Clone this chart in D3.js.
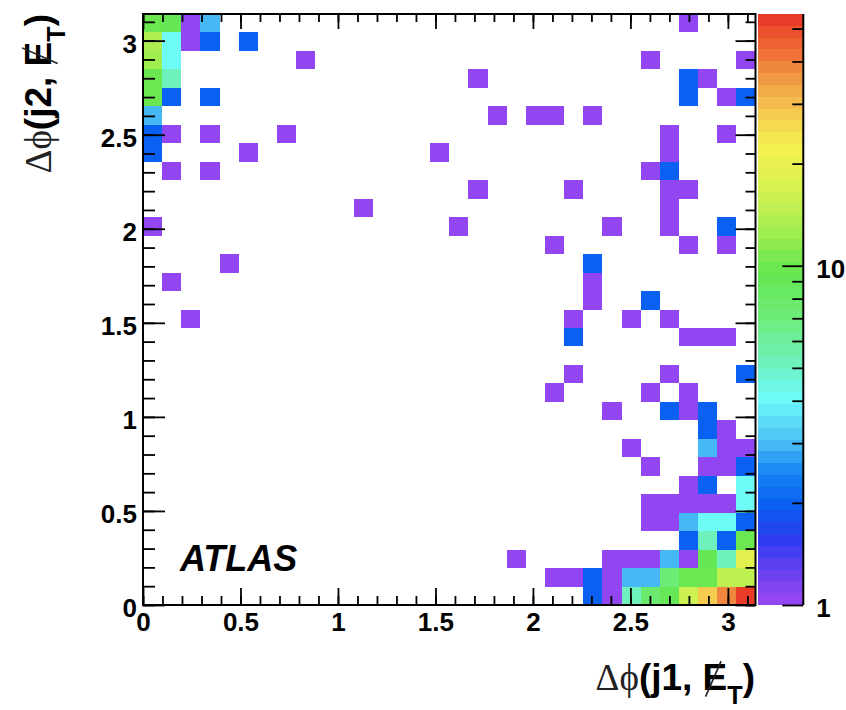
<!DOCTYPE html>
<html>
<head>
<meta charset="utf-8">
<script src="https://cdn.jsdelivr.net/npm/d3@7"></script>
<style>
  body { margin: 0; background: #fff; }
  svg { display: block; font-family: "Liberation Sans", Arial, Helvetica, sans-serif; }
</style>
</head>
<body>
<div id="chart"></div>
<script>
// 32 x 32 bins over [0, pi] on both axes
const nBins = 32;
const phiMax = Math.PI;

// filled bins: y bin index, x bin index, entries (read row by row, top row first)
const binRow = [
  31, 31, 31, 31, 31,
  30, 30, 30, 30, 30,
  29, 29, 29, 29, 29,
  28, 28, 28, 28, 28,
  27, 27, 27, 27, 27, 27,
  26, 26, 26, 26, 26,
  25, 25, 25, 25, 25, 25,
  24, 24, 24, 24,
  23, 23, 23, 23,
  22, 22, 22, 22,
  21, 21,
  20, 20, 20, 20, 20,
  19, 19, 19,
  18, 18,
  17, 17,
  16, 16,
  15, 15, 15, 15,
  14, 14, 14, 14,
  12, 12, 12,
  11, 11, 11,
  10, 10, 10, 10,
  9, 9,
  8, 8, 8, 8,
  7, 7, 7, 7,
  6, 6, 6,
  5, 5, 5, 5, 5, 5,
  4, 4, 4, 4, 4, 4,
  3, 3, 3, 3,
  2, 2, 2, 2, 2, 2, 2, 2, 2,
  1, 1, 1, 1, 1, 1, 1, 1, 1, 1, 1,
  0, 0, 0, 0, 0, 0, 0, 0, 0
];
const binCol = [
  0, 1, 2, 3, 28,
  0, 1, 2, 3, 5,
  0, 1, 8, 26, 31,
  0, 1, 17, 28, 29,
  0, 1, 3, 28, 30, 31,
  0, 18, 20, 21, 23,
  0, 1, 3, 7, 27, 30,
  0, 5, 15, 27,
  1, 3, 26, 27,
  17, 22, 27, 28,
  11, 27,
  0, 16, 24, 27, 30,
  21, 28, 30,
  4, 23,
  1, 23,
  23, 26,
  2, 22, 25, 27,
  22, 28, 29, 30,
  22, 27, 31,
  21, 26, 28,
  24, 27, 28, 29,
  29, 30,
  25, 29, 30, 31,
  26, 29, 30, 31,
  28, 29, 31,
  26, 27, 28, 29, 30, 31,
  26, 27, 28, 29, 30, 31,
  28, 29, 30, 31,
  19, 24, 25, 26, 27, 28, 29, 30, 31,
  21, 22, 23, 24, 25, 26, 27, 28, 29, 30, 31,
  23, 24, 25, 26, 27, 28, 29, 30, 31
];
const binEntries = [
  10, 9, 1, 3, 1,
  14, 4, 1, 2, 2,
  13, 4, 1, 1, 1,
  10, 5, 1, 2, 1,
  10, 2, 2, 2, 1, 2,
  3, 1, 1, 1, 1,
  2, 1, 1, 1, 1, 1,
  2, 1, 1, 1,
  1, 1, 1, 2,
  1, 1, 1, 1,
  1, 1,
  1, 1, 1, 1, 2,
  1, 1, 1,
  1, 2,
  1, 1,
  1, 2,
  1, 1, 1, 1,
  2, 1, 1, 1,
  1, 1, 2,
  1, 1, 1,
  1, 2, 1, 2,
  2, 1,
  1, 3, 1, 1,
  1, 1, 1, 2,
  1, 2, 4,
  1, 1, 1, 1, 1, 4,
  1, 1, 3, 4, 4, 2,
  2, 5, 2, 10,
  1, 1, 1, 1, 3, 1, 9, 5, 18,
  1, 1, 2, 1, 3, 3, 7, 10, 10, 15, 15,
  2, 1, 5, 8, 9, 16, 28, 38, 55
];

const axisTicks = [0, 0.5, 1, 1.5, 2, 2.5, 3];
const zMin = 1, zMax = 55.2;
const zLabelTicks = [1, 10];
const zMinorTicks = [2, 3, 4, 5, 6, 7, 8, 9, 20, 30, 40, 50];

// ROOT "pretty" palette: 50 hues from violet down to red, tinted like the print
const nColors = 50;
const hueAnchors = [
  [280, [150, 70, 242]], [274, [145, 70, 242]], [260, [100, 65, 240]],
  [245, [40, 60, 240]], [230, [10, 95, 240]], [215, [20, 130, 242]],
  [200, [75, 190, 245]], [180, [110, 250, 250]], [160, [110, 240, 180]],
  [140, [110, 236, 120]], [120, [100, 230, 80]], [100, [160, 238, 80]],
  [80, [215, 242, 80]], [60, [245, 240, 80]], [45, [245, 205, 80]],
  [30, [240, 160, 70]], [15, [240, 110, 55]], [0, [232, 60, 40]]
];
function hueColor(h) {
  for (let k = 0; k < hueAnchors.length - 1; k++) {
    const [h0, c0] = hueAnchors[k], [h1, c1] = hueAnchors[k + 1];
    if (h <= h0 && h >= h1) {
      const t = (h0 - h) / (h0 - h1);
      return d3.rgb(c0[0] + t * (c1[0] - c0[0]), c0[1] + t * (c1[1] - c0[1]), c0[2] + t * (c1[2] - c0[2])).formatHex();
    }
  }
  return '#e83c28';
}
const palette = d3.range(nColors).map(i => hueColor(280 - (i + 1) * 280 / nColors));

const W = 846, H = 710;
const plot = { left: 143, right: 755.5, top: 14, bottom: 605 };
const cb = { left: 757.7, right: 803.3 };

const svg = d3.select('#chart').append('svg')
  .attr('width', W)
  .attr('height', H);

const x = d3.scaleLinear().domain([0, phiMax]).range([plot.left, plot.right]);
const y = d3.scaleLinear().domain([0, phiMax]).range([plot.bottom, plot.top]);
const zIndex = d3.scaleLog().domain([zMin, zMax]).range([0, nColors]);
const zy = d3.scaleLog().domain([zMin, zMax]).range([plot.bottom, plot.top]);
const binW = phiMax / nBins;

const cells = binEntries.map((n, k) => ({ ix: binCol[k], iy: binRow[k], n: n }));

// histogram cells
svg.append('g')
  .selectAll('rect')
  .data(cells)
  .join('rect')
  .attr('x', d => x(d.ix * binW))
  .attr('y', d => y((d.iy + 1) * binW))
  .attr('width', d => x((d.ix + 1) * binW) - x(d.ix * binW))
  .attr('height', d => y(d.iy * binW) - y((d.iy + 1) * binW))
  .attr('fill', d => palette[Math.min(nColors - 1, Math.floor(zIndex(d.n) + 0.01))])
  .attr('shape-rendering', 'crispEdges');

function styleAxis(g) {
  g.attr('font-family', null).attr('font-size', null);
  g.select('.domain').remove();
  g.selectAll('.tick line').attr('stroke', '#000').attr('stroke-width', 1.8);
  g.selectAll('.tick text')
    .attr('fill', '#000')
    .attr('font-weight', 'bold')
    .attr('font-size', 26);
}

const minorTicks = d3.range(0, 32).map(i => i / 10);

// bottom
svg.append('g').attr('transform', `translate(0,${plot.bottom})`)
  .call(d3.axisBottom(x).tickValues(minorTicks).tickSize(-9).tickFormat(''))
  .call(styleAxis);
svg.append('g').attr('transform', `translate(0,${plot.bottom})`)
  .call(d3.axisBottom(x).tickValues(axisTicks).tickSize(-17).tickPadding(8).tickFormat(d => String(d)))
  .call(styleAxis);
// top
svg.append('g').attr('transform', `translate(0,${plot.top})`)
  .call(d3.axisTop(x).tickValues(minorTicks).tickSize(-8).tickFormat(''))
  .call(styleAxis);
svg.append('g').attr('transform', `translate(0,${plot.top})`)
  .call(d3.axisTop(x).tickValues(axisTicks).tickSize(-15).tickFormat(''))
  .call(styleAxis);
// left
svg.append('g').attr('transform', `translate(${plot.left},0)`)
  .call(d3.axisLeft(y).tickValues(minorTicks).tickSize(-12).tickFormat(''))
  .call(styleAxis);
svg.append('g').attr('transform', `translate(${plot.left},0)`)
  .call(d3.axisLeft(y).tickValues(axisTicks).tickSize(-22).tickPadding(6).tickFormat(d => String(d)))
  .call(styleAxis)
  .selectAll('.tick text').attr('dy', '0.45em');
// right
svg.append('g').attr('transform', `translate(${plot.right},0)`)
  .call(d3.axisRight(y).tickValues(minorTicks).tickSize(-10).tickFormat(''))
  .call(styleAxis);
svg.append('g').attr('transform', `translate(${plot.right},0)`)
  .call(d3.axisRight(y).tickValues(axisTicks).tickSize(-20).tickFormat(''))
  .call(styleAxis);

// frame
svg.append('rect')
  .attr('x', plot.left)
  .attr('y', plot.top)
  .attr('width', plot.right - plot.left)
  .attr('height', plot.bottom - plot.top)
  .attr('fill', 'none')
  .attr('stroke', '#000')
  .attr('stroke-width', 2);

// colour bar
svg.append('g')
  .selectAll('rect')
  .data(palette)
  .join('rect')
  .attr('x', cb.left)
  .attr('width', cb.right - cb.left)
  .attr('y', (c, i) => zy(zIndex.invert(i + 1)))
  .attr('height', (c, i) => zy(zIndex.invert(i)) - zy(zIndex.invert(i + 1)))
  .attr('fill', c => c)
  .attr('shape-rendering', 'crispEdges');

svg.append('g').attr('transform', `translate(${cb.right},0)`)
  .call(d3.axisRight(zy).tickValues(zMinorTicks).tickSize(-11).tickFormat(''))
  .call(styleAxis);
svg.append('g').attr('transform', `translate(${cb.right},0)`)
  .call(d3.axisRight(zy).tickValues(zLabelTicks).tickSize(-21).tickPadding(13).tickFormat(d => String(d)))
  .call(styleAxis)
  .selectAll('.tick text').attr('dy', '0.45em');
svg.append('line')
  .attr('x1', cb.right).attr('x2', cb.right)
  .attr('y1', plot.top).attr('y2', plot.bottom)
  .attr('stroke', '#000')
  .attr('stroke-width', 2);

// axis titles: "Δϕ(jN, E̸T)"
const titleSize = 37;
function axisTitle(g, jet) {
  const t = g.append('text')
    .attr('text-anchor', 'end')
    .attr('font-size', titleSize)
    .attr('fill', '#000');
  t.append('tspan')
    .attr('font-family', '"Liberation Serif", "DejaVu Serif", serif')
    .attr('fill', '#222')
    .text('\u0394\u03d5');
  t.append('tspan').attr('font-weight', 'bold').text(`(${jet}, E`);
  t.append('tspan')
    .attr('font-weight', 'bold')
    .attr('font-size', titleSize * 0.68)
    .attr('dy', titleSize * 0.38)
    .text('T');
  t.append('tspan')
    .attr('font-weight', 'bold')
    .attr('dy', -titleSize * 0.38)
    .text(')');
  // slash through the E (missing transverse energy)
  const eIdx = 2 + `(${jet}, `.length;
  const p = t.node().getStartPositionOfChar(eIdx);
  g.append('line')
    .attr('x1', p.x + 0.08 * titleSize)
    .attr('y1', p.y + 0.18 * titleSize)
    .attr('x2', p.x + 0.5 * titleSize)
    .attr('y2', p.y - 0.78 * titleSize)
    .attr('stroke', '#222')
    .attr('stroke-width', 1.6);
}

axisTitle(svg.append('g').attr('transform', 'translate(755,690)'), 'j1');
axisTitle(svg.append('g').attr('transform', 'translate(51,14) rotate(-90)'), 'j2');

// experiment label
svg.append('text')
  .attr('x', 180)
  .attr('y', 571)
  .attr('font-size', 36)
  .attr('font-weight', 'bold')
  .attr('font-style', 'italic')
  .attr('fill', '#000')
  .text('ATLAS');
</script>
</body>
</html>
